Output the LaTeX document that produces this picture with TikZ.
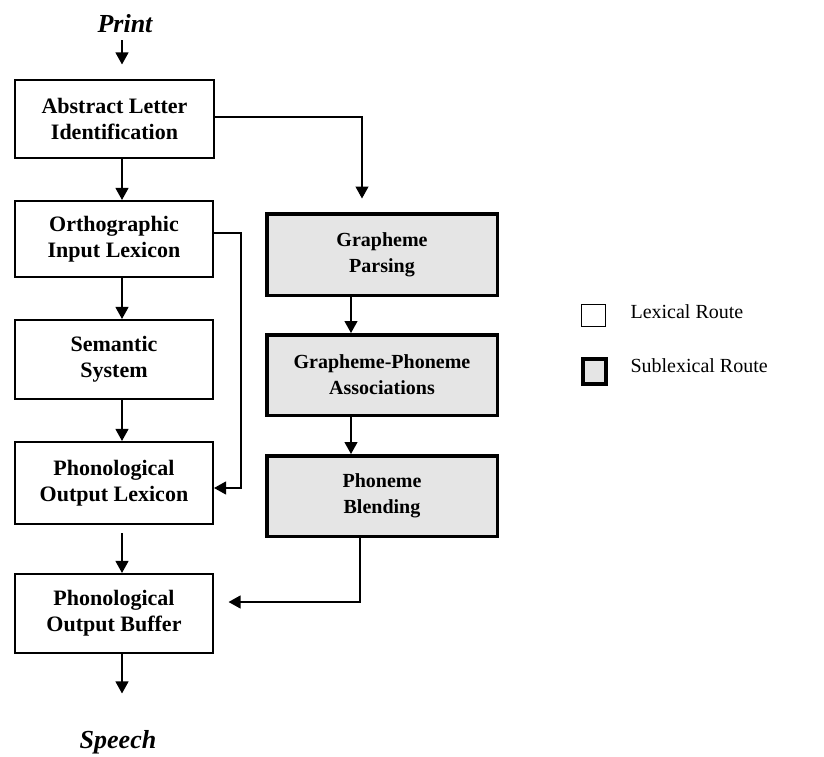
\documentclass[tikz,border=0pt]{standalone}
\usepackage{fontspec}
\setmainfont{Liberation Serif}
\usetikzlibrary{arrows.meta,calc}
\definecolor{subgray}{gray}{0.9}
\newcommand\dfleftfont{\fontsize{22}{26}\selectfont\bfseries}
\newcommand\dfrightfont{\fontsize{20}{26}\selectfont\bfseries}
\newcommand\dflegfont{\fontsize{20}{24}\selectfont}
\newcommand\dfendfont{\fontsize{26}{30}\selectfont\bfseries\itshape}
\begin{document}
\begin{tikzpicture}[x=1pt,y=-1pt,
  lexbox/.style={draw, line width=1.6pt, fill=white, minimum width=198.5pt,
    inner sep=0pt, align=center, font=\dfleftfont},
  subbox/.style={draw, line width=3.5pt, fill=subgray, minimum width=230.5pt,
    inner sep=0pt, align=center, font=\dfrightfont},
  arr/.style={line width=1.2pt, -{Triangle[length=12pt,width=13pt]}},
  endlabel/.style={font=\dfendfont, anchor=base},
  legtext/.style={font=\dflegfont, anchor=base west},
]
\path[use as bounding box] (0,0) rectangle (824,756);

\coordinate (xl) at (122,0);
\coordinate (xr) at (351,0);

% terminals
\node[endlabel] (print) at (125,32) {Print};
\node[endlabel] (speech) at (118,748) {Speech};

% lexical column
\node[lexbox, minimum height=78.5pt] (ali) at (114.5,119) {Abstract Letter\\Identification};
\node[lexbox, minimum height=76.5pt] (oil) at (114,239) {Orthographic\\Input Lexicon};
\node[lexbox, minimum height=79.5pt] (ss)  at (114,359.5) {Semantic\\System};
\node[lexbox, minimum height=82.5pt] (pol) at (114,483) {Phonological\\Output Lexicon};
\node[lexbox, minimum height=79.5pt] (pob) at (114,613.5) {Phonological\\Output Buffer};

% sublexical column
\node[subbox, minimum height=81.5pt] (gp)  at (382,254.5) {Grapheme\\Parsing};
\node[subbox, minimum height=80.5pt] (gpa) at (382,375) {Grapheme-Phoneme\\Associations};
\node[subbox, minimum height=80.5pt] (pb)  at (382,496) {Phoneme\\Blending};

% legend
\node[draw, line width=1.2pt, fill=white, minimum width=24pt, minimum height=22pt, inner sep=0pt] (leglex) at (593.5,315.5) {};
\node[draw, line width=4pt, fill=subgray, minimum width=23pt, minimum height=25pt, inner sep=0pt] (legsub) at (594.5,371.5) {};
\node[legtext] (leglextxt) at (627,318) {Lexical Route};
\node[legtext] (legsubtxt) at (627,372) {Sublexical Route};

% connectors, lexical column
\draw[arr, shorten <=4.5pt, shorten >=14.5pt] (print.south -| xl) -- (ali.north -| xl);
\draw[arr] (ali.south -| xl) -- (oil.north -| xl);
\draw[arr] (oil.south -| xl) -- (ss.north -| xl);
\draw[arr] (ss.south -| xl) -- (pol.north -| xl);
\draw[arr, shorten <=8pt] (pol.south -| xl) -- (pob.north -| xl);
\draw[arr, shorten >=33pt] (pob.south -| xl) -- (speech.north -| xl);

% lexical bypass
\draw[arr] ([yshift=6pt]oil.east) -- ++(27,0) |- ([yshift=-5pt]pol.east);

% to sublexical route
\draw[arr, shorten >=13.5pt] ([yshift=2pt]ali.east) -| ([xshift=-20pt]gp.north);
\draw[arr] (gp.south -| xr) -- (gpa.north -| xr);
\draw[arr] (gpa.south -| xr) -- (pb.north -| xr);
\draw[arr, shorten >=14.5pt] ([xshift=-22pt]pb.south) |- ([yshift=11.5pt]pob.east);
\end{tikzpicture}
\end{document}
